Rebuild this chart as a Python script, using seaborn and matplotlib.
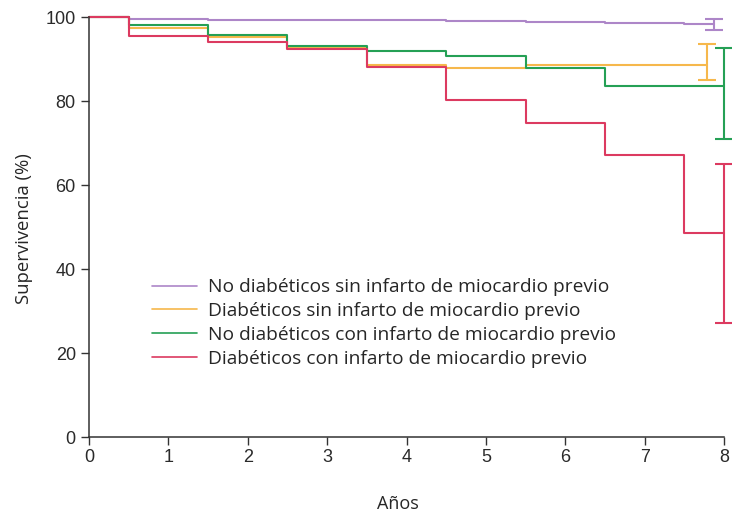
import numpy as np
import pandas as pd
import matplotlib
matplotlib.use("Agg")
import matplotlib.pyplot as plt
import seaborn as sns

# ---- data ----
grupos = [
    "No diabéticos sin infarto de miocardio previo",
    "Diabéticos sin infarto de miocardio previo",
    "No diabéticos con infarto de miocardio previo",
    "Diabéticos con infarto de miocardio previo",
]
tiempos = [0, 0.5, 1.5, 2.5, 3.5, 4.5, 5.5, 6.5, 7.5]
surv_nd_sin = [100, 99.5, 99.4, 99.3, 99.2, 99.1, 98.7, 98.6, 98.4]
surv_d_sin = [100, 97.5, 95.3, 92.7, 88.6, 87.9, 88.6, 88.6, 88.6]
surv_nd_con = [100, 98.1, 95.6, 93.1, 92.0, 90.6, 87.9, 83.6, 83.6]
surv_d_con = [100, 95.5, 94.0, 92.4, 88.0, 80.2, 74.7, 67.2, 48.5]
t_fin = [7.88, 7.78, 8.0, 8.0]
ic_inf = [96.9, 84.9, 71.0, 27.1]
ic_sup = [99.6, 93.5, 92.7, 64.9]
colores = ["#ad86c8", "#f6b84c", "#25a055", "#dc3a60"]
x_ticks = [0, 1, 2, 3, 4, 5, 6, 7, 8]
y_ticks = [0, 20, 40, 60, 80, 100]

series = [surv_nd_sin, surv_d_sin, surv_nd_con, surv_d_con]
rows = []
for g, s, tf in zip(grupos, series, t_fin):
    ts = tiempos + [tf]
    ss = s + [s[-1]]
    for t, v in zip(ts, ss):
        rows.append({"t": t, "s": v, "grupo": g})
df = pd.DataFrame(rows)

sns.set_style("ticks")
plt.rcParams["font.family"] = ["Open Sans", "DejaVu Sans"]

fig = plt.figure(figsize=(7.32, 5.16), dpi=100)
ax = fig.add_axes([89 / 732, 1 - 437 / 516, (724 - 89) / 732, (437 - 17) / 516])

sns.lineplot(data=df, x="t", y="s", hue="grupo", hue_order=grupos,
             palette=colores, drawstyle="steps-post", estimator=None,
             linewidth=1.5, ax=ax, clip_on=False, sort=False)

for tf, lo, hi, c in zip(t_fin, ic_inf, ic_sup, colores):
    ax.errorbar([tf], [(lo + hi) / 2], yerr=[[(hi - lo) / 2], [(hi - lo) / 2]],
                fmt="none", ecolor=c, elinewidth=1.5, capsize=6.3, capthick=1.5,
                clip_on=False)

ax.set_xlim(0, 8)
ax.set_ylim(0, 100)
ax.set_xticks(x_ticks)
ax.set_yticks(y_ticks)
for lab in ax.get_xticklabels() + ax.get_yticklabels():
    lab.set_family(["Liberation Sans", "DejaVu Sans"])
    lab.set_fontsize(13)
    lab.set_color("#2a2a2a")
ax.tick_params(axis="both", direction="out", length=6, width=1, color="#333333")
ax.tick_params(axis="y", pad=3.5)
ax.tick_params(axis="x", pad=3)
sns.despine(ax=ax)
for sp in ["left", "bottom"]:
    ax.spines[sp].set_linewidth(1.1)
    ax.spines[sp].set_color("#333333")

ax.set_xlabel("Años", fontsize=13)
ax.set_ylabel("Supervivencia (%)", fontsize=13.3)
ax.xaxis.set_label_coords((398 - 89) / 635, (437 - 504) / 420)
ax.xaxis.label.set_va("center")
ax.yaxis.set_label_coords((24 - 89) / 635, (437 - 229) / 420)
ax.yaxis.label.set_va("center")

leg = ax.legend(loc="upper left", bbox_to_anchor=(0.0876, 0.396), frameon=False,
                fontsize=13.8, handlelength=2.35, handletextpad=0.55,
                labelspacing=0.3, borderaxespad=0)
for h in leg.get_lines():
    h.set_linewidth(1.2)

fig.savefig("out.png", dpi=100)
